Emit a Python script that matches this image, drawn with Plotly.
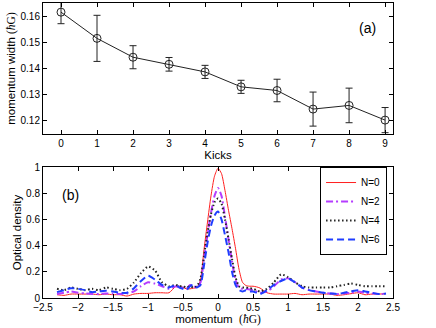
import plotly.graph_objects as go
from plotly.subplots import make_subplots

# (a) momentum width vs number of kicks
kicks = [0, 1, 2, 3, 4, 5, 6, 7, 8, 9]
width = [0.1615, 0.1515, 0.1443, 0.1416, 0.1387, 0.1330, 0.1316, 0.1245, 0.1259, 0.1203]
width_err = [0.0044, 0.0088, 0.0044, 0.0026, 0.0025, 0.0025, 0.0043, 0.0065, 0.0066, 0.0048]

# (b) optical density profiles
momentum = [-2.3, -2.2, -2.1, -2.0, -1.9, -1.8, -1.7, -1.6, -1.5, -1.4, -1.3, -1.2, -1.1, -1.0,
            -0.9, -0.8, -0.7,
            -0.6, -0.55, -0.5, -0.45, -0.4, -0.35, -0.3, -0.25, -0.2, -0.15, -0.1, -0.05,
            0.0, 0.05, 0.1, 0.15, 0.2, 0.25, 0.3, 0.35, 0.4, 0.45, 0.5, 0.55, 0.6,
            0.7, 0.8, 0.9, 1.0, 1.1, 1.2, 1.3, 1.4, 1.5, 1.6, 1.7, 1.8, 1.9, 2.0,
            2.1, 2.2, 2.3, 2.4]
od_n0 = [0.025, 0.02, 0.03, 0.03, 0.03, 0.03, 0.025, 0.03, 0.025, 0.025, 0.015, 0.03, 0.035, 0.035,
         0.04, 0.04, 0.04,
         0.09, 0.09, 0.08, 0.07, 0.07, 0.075, 0.08, 0.14, 0.37, 0.58, 0.78, 0.93,
         0.99, 0.95, 0.82, 0.67, 0.53, 0.38, 0.22, 0.12, 0.095, 0.09, 0.09, 0.085, 0.076,
         0.04, 0.03, 0.03, 0.03, 0.035, 0.025, 0.03, 0.03, 0.03, 0.03, 0.02, 0.025, 0.033, 0.04,
         0.025, 0.03, 0.03, 0.033]
od_n2 = [0.03, 0.04, 0.05, 0.04, 0.035, 0.03, 0.03, 0.035, 0.035, 0.03, 0.035, 0.05, 0.09, 0.12,
         0.11, 0.09, 0.07,
         0.09, 0.08, 0.08, 0.07, 0.1, 0.09, 0.08, 0.12, 0.3, 0.48, 0.65, 0.78,
         0.84, 0.78, 0.62, 0.45, 0.28, 0.14, 0.08, 0.07, 0.07, 0.065, 0.06, 0.05, 0.04,
         0.05, 0.09, 0.14, 0.15, 0.12, 0.08, 0.06, 0.05, 0.04, 0.035, 0.03, 0.035, 0.04, 0.05,
         0.04, 0.035, 0.03, 0.03]
od_n4 = [0.07, 0.06, 0.08, 0.07, 0.06, 0.07, 0.06, 0.08, 0.07, 0.06, 0.07, 0.12, 0.19, 0.24,
         0.21, 0.12, 0.09,
         0.1, 0.09, 0.09, 0.08, 0.09, 0.08, 0.09, 0.15, 0.32, 0.5, 0.64, 0.73,
         0.76, 0.72, 0.6, 0.45, 0.3, 0.16, 0.09, 0.08, 0.08, 0.075, 0.07, 0.06, 0.05,
         0.07, 0.12, 0.18, 0.16, 0.12, 0.09, 0.08, 0.08, 0.08, 0.08, 0.09, 0.1, 0.11, 0.1,
         0.09, 0.09, 0.09, 0.09]
od_n6 = [0.045, 0.06, 0.075, 0.07, 0.06, 0.045, 0.05, 0.055, 0.05, 0.04, 0.04, 0.075, 0.13, 0.17,
         0.14, 0.1, 0.08,
         0.1, 0.08, 0.07, 0.06, 0.09, 0.1, 0.08, 0.1, 0.25, 0.42, 0.55, 0.63,
         0.66, 0.6, 0.48, 0.35, 0.2, 0.1, 0.06, 0.05, 0.06, 0.05, 0.05, 0.04, 0.03,
         0.06, 0.1, 0.13, 0.15, 0.12, 0.08, 0.06, 0.05, 0.04, 0.035, 0.03, 0.04, 0.05, 0.06,
         0.05, 0.04, 0.03, 0.035]

hbar = '<span style="font-family:\'Liberation Serif\'">(<i>ħ</i>G)</span>'

fig = make_subplots(rows=2, cols=1, vertical_spacing=0.112)

fig.add_trace(go.Scatter(
    x=kicks, y=width,
    mode="lines+markers",
    line=dict(color="#222", width=1),
    marker=dict(symbol="circle-open", size=8, color="#222", line=dict(width=1)),
    error_y=dict(type="data", array=width_err, color="#222", thickness=1, width=3.5),
    showlegend=False,
), row=1, col=1)

curves = [
    ("N=0", od_n0, dict(color="#ff2020", width=1, dash="solid")),
    ("N=2", od_n2, dict(color="#b53cff", width=2, dash="7px,3px,2px,3px")),
    ("N=4", od_n4, dict(color="#222", width=2, dash="1.5px,2.5px")),
    ("N=6", od_n6, dict(color="#1f3dff", width=2, dash="7px,4px")),
]
for name, y, line in curves:
    fig.add_trace(go.Scatter(
        x=momentum, y=y, mode="lines", name=name,
        line=dict(shape="spline", smoothing=0.6, **line),
    ), row=2, col=1)

axis_style = dict(
    showline=True, linecolor="black", linewidth=1, mirror="ticks",
    ticks="inside", ticklen=4, tickcolor="black", showgrid=False, zeroline=False,
    tickfont=dict(size=10, color="black"), automargin=False,
)

fig.update_xaxes(axis_style)
fig.update_yaxes(axis_style)

fig.update_xaxes(range=[-0.5, 9.22], dtick=1, row=1, col=1,
                 title=dict(text="Kicks", font=dict(size=11.5), standoff=0))
fig.update_yaxes(range=[0.115, 0.165], dtick=0.01, row=1, col=1,
                 title=dict(text="momentum width " + hbar, font=dict(size=11.5), standoff=2))
fig.update_xaxes(range=[-2.5, 2.5], dtick=0.5, row=2, col=1,
                 title=dict(text="momentum  " + hbar, font=dict(size=11.5), standoff=0))
fig.update_yaxes(range=[0, 1], dtick=0.2, row=2, col=1,
                 title=dict(text="Optical density", font=dict(size=11.5), standoff=2))

fig.add_annotation(x=8.5, y=0.1556, xref="x", yref="y", text="(a)",
                   showarrow=False, font=dict(size=14, color="black"))
fig.add_annotation(x=-2.11, y=0.79, xref="x2", yref="y2", text="(b)",
                   showarrow=False, font=dict(size=14, color="black"))

fig.update_layout(
    width=436, height=328,
    margin=dict(l=43, r=43, t=3, b=30),
    paper_bgcolor="white", plot_bgcolor="white",
    font=dict(family="Liberation Sans, Arial", color="black"),
    legend=dict(
        x=0.983, y=0.444, xanchor="right", yanchor="top",
        bordercolor="black", borderwidth=1, bgcolor="white",
        font=dict(size=10), tracegroupgap=0, itemwidth=30,
    ),
)

fig.write_html("out.html", config={"displayModeBar": False},
               post_script="document.body.style.margin='0';")
